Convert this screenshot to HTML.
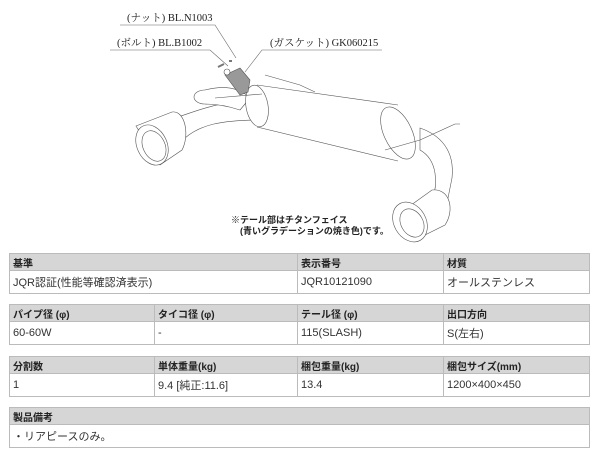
<!DOCTYPE html>
<html><head><meta charset="utf-8"><style>
body{margin:0;width:600px;height:450px;background:#fff;overflow:hidden;position:relative;font-family:"Liberation Sans","Noto Sans CJK JP",sans-serif;}
svg{position:absolute;left:0;top:0}
table{position:absolute;left:9px;width:581px;border-collapse:collapse;font-size:11px;color:#333;table-layout:fixed}
td{border:1px solid #bbb;padding:0 3px;height:22px;white-space:nowrap}
tr.h td{background:#d6d6d6;font-weight:bold;font-size:10px;height:16px;color:#222}
</style></head><body>
<svg width="600" height="250" viewBox="0 0 600 250" font-family="Liberation Serif, Noto Serif CJK SC, serif">
<g fill="#fff" stroke="#555" stroke-width="0.6">
<path d="M175,118 C200,110 215,102 258,100 L262,120 C220,120 200,125 185,138 Z"/>
<path d="M136,126 L172,112 C185,110 190,135 182,150 L160,165 Z"/>
<ellipse cx="152" cy="145" rx="15" ry="21" transform="rotate(-25 152 145)"/>
<ellipse cx="154" cy="146" rx="11" ry="16" transform="rotate(-25 154 146)"/>
<ellipse cx="205" cy="97" rx="11" ry="7"/>
<path d="M205,90 C225,85 240,88 250,98 L240,110 C225,105 215,104 205,104"/>
<path d="M257,85 L398,105 L398,161 L257,127 Z" stroke="none"/>
<path d="M257,85 L398,105 M257,127 L398,161"/>
<ellipse cx="257" cy="106" rx="11" ry="21" transform="rotate(-10 257 106)"/>
<path d="M420,128 C440,135 455,150 452,178 L448,198 L432,200 C438,185 438,160 420,150 Z"/>
<path d="M400,213 L432,190 C450,188 455,210 445,225 L415,240 Z"/>
<ellipse cx="410" cy="222" rx="16" ry="21" transform="rotate(-30 410 222)"/>
<ellipse cx="412" cy="223" rx="11" ry="15" transform="rotate(-30 412 223)"/>
<ellipse cx="398" cy="133" rx="14" ry="28" transform="rotate(-25 398 133)" fill="none"/>
<path d="M385,150 L420,140 L455,124 L460,124 M215,98 L262,94 M265,75 L300,85 L315,92" fill="none"/>
<path d="M225,75 L240,68 L250,80 L248,92 L240,95 Z" fill="#999"/>
<circle cx="227" cy="72" r="3"/>
<path d="M218,67 l6,-3 M229,61 l3,0" stroke-width="2" stroke="#777"/>
</g>
<g stroke="#666" stroke-width="0.6" fill="none">
<path d="M120,25 L215,25 L236,58 M110,50 L210,50 L228,66 M382,50 L262,50 L245,72"/>
</g>
<g font-size="10.5" fill="#222">
<text x="127" y="21">(ナット) BL.N1003</text>
<text x="117" y="46">(ボルト) BL.B1002</text>
<text x="270" y="46">(ガスケット) GK060215</text>
</g>
<g font-size="9" font-weight="bold" fill="#222" font-family="Liberation Sans, Noto Sans CJK JP, sans-serif">
<text x="231" y="223">※テール部はチタンフェイス</text>
<text x="240" y="234">(青いグラデーションの焼き色)です。</text>
</g>
</svg>
<table style="top:253px"><colgroup><col style="width:288px"><col style="width:146px"><col></colgroup>
<tr class="h"><td>基準</td><td>表示番号</td><td>材質</td></tr>
<tr><td>JQR認証(性能等確認済表示)</td><td>JQR10121090</td><td>オールステンレス</td></tr></table>
<table style="top:304px"><colgroup><col style="width:145px"><col style="width:143px"><col style="width:146px"><col></colgroup>
<tr class="h"><td>パイプ径 (φ)</td><td>タイコ径 (φ)</td><td>テール径 (φ)</td><td>出口方向</td></tr>
<tr><td>60-60W</td><td>-</td><td>115(SLASH)</td><td>S(左右)</td></tr></table>
<table style="top:356px"><colgroup><col style="width:145px"><col style="width:143px"><col style="width:146px"><col></colgroup>
<tr class="h"><td>分割数</td><td>単体重量(kg)</td><td>梱包重量(kg)</td><td>梱包サイズ(mm)</td></tr>
<tr><td>1</td><td>9.4 [純正:11.6]</td><td>13.4</td><td>1200×400×450</td></tr></table>
<table style="top:407px">
<tr class="h"><td>製品備考</td></tr>
<tr><td>・リアピースのみ。</td></tr></table>
</body></html>
